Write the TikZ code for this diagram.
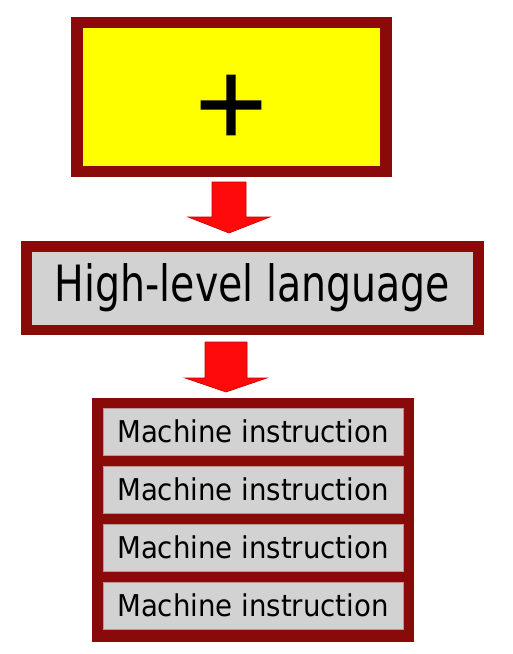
\documentclass[tikz,border=0pt]{standalone}
\usepackage{fontspec}
\usepackage{graphicx}
\newfontfamily\dvfont{DejaVu Sans}
\newfontfamily\plusfont[FakeBold=1.5]{DejaVu Sans}
\usetikzlibrary{calc}
\definecolor{boxred}{HTML}{8A0A0A}
\definecolor{boxyellow}{HTML}{FFFF00}
\definecolor{boxgray}{HTML}{D2D2D2}
\definecolor{arrowred}{HTML}{FF0A0A}
\definecolor{arrowedge}{HTML}{C00000}
\tikzset{
  framebox/.style={draw=boxred, inner sep=0pt, outer sep=0pt},
  rowbox/.style={fill=boxgray, draw=boxgray!70!boxred, line width=0.8pt, inner sep=0pt, minimum width=300pt, minimum height=47pt, font=\dvfont\fontsize{30}{30}\selectfont},
  blockarrow/.style={fill=arrowred, draw=arrowedge, line width=0.6pt, line join=miter},
}
\begin{document}
\begin{tikzpicture}[x=1pt,y=-1pt]
\useasboundingbox (0,0) rectangle (512,654);
% top box
\node[framebox, fill=boxyellow, line width=11.5pt, minimum width=309pt, minimum height=149pt] (topbox) at (231.5,97) {};
\node[font=\plusfont\fontsize{95}{95}\selectfont, inner sep=0pt] (plus) at (231,105) {+};
% high-level language box
\node[framebox, fill=boxgray, line width=10.5pt, minimum width=452pt, minimum height=83.5pt,
      font=\dvfont\fontsize{50}{50}\selectfont] (hll) at (252.5,288) {\scalebox{0.79}[1]{High-level language}};
% machine instruction stack
\node[framebox, fill=boxred, line width=0pt, minimum width=321pt, minimum height=243pt] (stack) at (252.5,519.5) {};
\node[rowbox] (m1) at (253,431.5) {\scalebox{0.92}[1]{Machine instruction}};
\node[rowbox] (m2) at (253,489.5) {\scalebox{0.92}[1]{Machine instruction}};
\node[rowbox] (m3) at (253,547.5) {\scalebox{0.92}[1]{Machine instruction}};
\node[rowbox] (m4) at (253,605.5) {\scalebox{0.92}[1]{Machine instruction}};
% arrows
\coordinate (a1) at (229,182);
\draw[blockarrow] ($(a1)+(-17,0)$) -- ++(34,0) -- ++(0,35) -- ++(24,0) -- ($(a1)+(0,51)$) -- ($(a1)+(-41,35)$) -- ++(24,0) -- cycle;
\coordinate (a2) at (226,342);
\draw[blockarrow] ($(a2)+(-21,0)$) -- ++(42,0) -- ++(0,36) -- ++(20,0) -- ($(a2)+(0,50)$) -- ($(a2)+(-41,36)$) -- ++(20,0) -- cycle;
\end{tikzpicture}
\end{document}
